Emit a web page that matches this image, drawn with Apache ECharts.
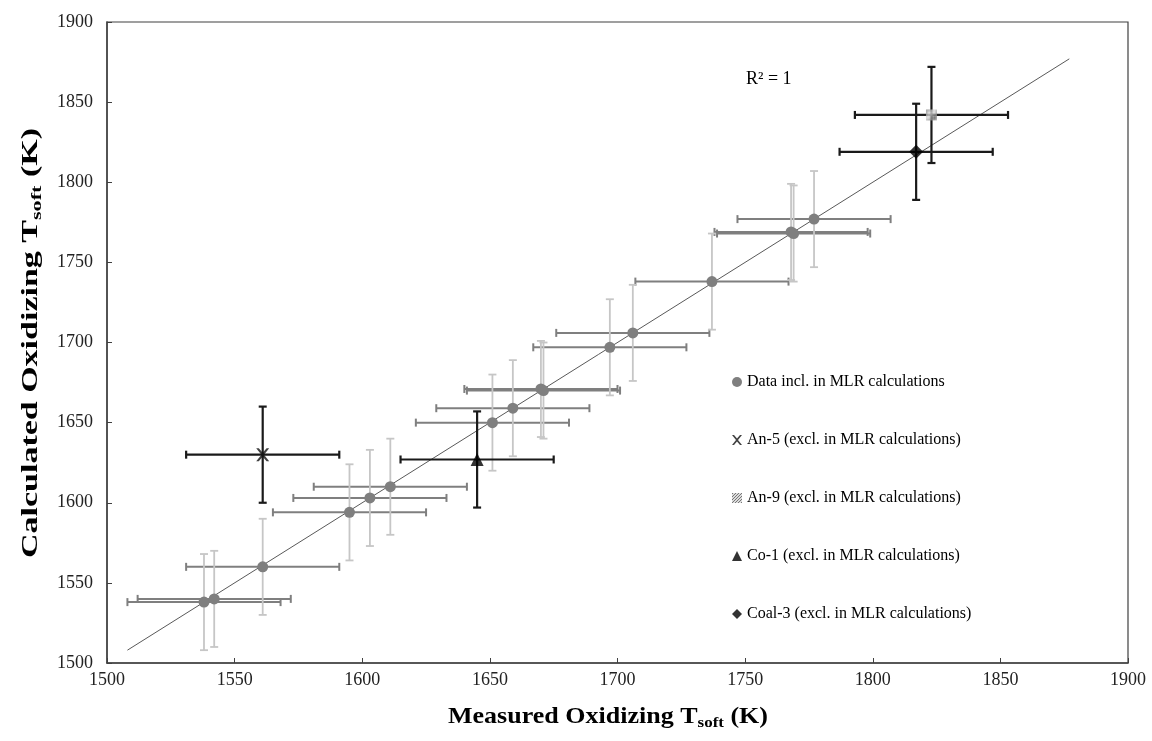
<!DOCTYPE html>
<html>
<head>
<meta charset="UTF-8">
<title>Oxidizing Tsoft</title>
<script src="https://cdn.jsdelivr.net/npm/echarts@6/dist/echarts.min.js"></script>
<style>
  html, body { margin: 0; padding: 0; background: #fff; }
  #main { width: 1152px; height: 741px; }
</style>
</head>
<body>
<div id="main"></div>
<script>
// measured / calculated values
var incX = [1538, 1542, 1561, 1595, 1603, 1611, 1651, 1659, 1670, 1671, 1697, 1706, 1737, 1768, 1769, 1777];
var incY = [1538, 1540, 1560, 1594, 1603, 1610, 1650, 1659, 1671, 1670, 1697, 1706, 1738, 1769, 1768, 1777];
var an5 = [1561, 1630];
var an9 = [1823, 1842];
var co1 = [1645, 1627];
var coal3 = [1817, 1819];
var errBar = 30;            // +/- K on both axes
var trendX = [1508, 1877];  // y = x trendline

var font = 'Liberation Serif';
var chart = echarts.init(document.getElementById('main'));

// dotted fill for An-9
var pat = document.createElement('canvas');
pat.width = 3; pat.height = 3;
var pc = pat.getContext('2d');
pc.fillStyle = '#d4d4d4'; pc.fillRect(0, 0, 3, 3);
pc.fillStyle = '#555'; pc.fillRect(0, 0, 1, 1); pc.fillRect(2, 1, 1, 1); pc.fillRect(1, 2, 1, 1);

var xMark = 'path://M0,0 L2,0 L5,3.5 L8,0 L10,0 L6,5 L10,10 L8,10 L5,6.5 L2,10 L0,10 L4,5 Z';

// axis titles are stretched a bit in the source figure
var mc = document.createElement('canvas').getContext('2d');
function titleWidth(main, sub, tail) {
  mc.font = 'bold 23px "Liberation Serif"';
  var w = mc.measureText(main).width + mc.measureText(tail).width;
  mc.font = 'bold 15px "Liberation Serif"';
  return w + mc.measureText(sub).width;
}
var titleRich = {
  b: { fontFamily: font, fontSize: 23, fontWeight: 'bold', fill: '#000', lineHeight: 28 },
  s: { fontFamily: font, fontSize: 15, fontWeight: 'bold', fill: '#000', lineHeight: 15, verticalAlign: 'bottom' }
};
var xTitleScale = 320 / titleWidth('Measured Oxidizing T', 'soft', ' (K)');
var yTitleScale = 430 / titleWidth('Calculated Oxidizing T', 'soft', ' (K)');

function errRender(dirs, color, width) {
  return function (params, api) {
    var x = api.value(0), y = api.value(1), e = api.value(2);
    var cap = 4;
    var st = { stroke: color, lineWidth: width };
    var kids = [];
    function ln(a, b) {
      kids.push({ type: 'line', shape: { x1: a[0], y1: a[1], x2: b[0], y2: b[1] }, style: st });
    }
    if (dirs.indexOf('h') >= 0) {
      var l = api.coord([x - e, y]), r = api.coord([x + e, y]);
      ln(l, r);
      ln([l[0], l[1] - cap], [l[0], l[1] + cap]);
      ln([r[0], r[1] - cap], [r[0], r[1] + cap]);
    }
    if (dirs.indexOf('v') >= 0) {
      var t = api.coord([x, y + e]), b = api.coord([x, y - e]);
      ln(t, b);
      ln([t[0] - cap, t[1]], [t[0] + cap, t[1]]);
      ln([b[0] - cap, b[1]], [b[0] + cap, b[1]]);
    }
    return { type: 'group', children: kids };
  };
}

var incData = incX.map(function (v, i) { return [v, incY[i], errBar]; });
var excData = [an5, an9, co1, coal3].map(function (p) { return [p[0], p[1], errBar]; });

var option = {
  backgroundColor: '#fff',
  animation: false,
  grid: { left: 107, right: 24, top: 22, bottom: 78, show: true, borderColor: '#404040', borderWidth: 1.2 },
  legend: {
    orient: 'vertical',
    left: 727, top: 368,
    itemWidth: 10, itemHeight: 10, itemGap: 40,
    selectedMode: false,
    textStyle: { fontFamily: font, fontSize: 16, color: '#000', lineHeight: 18 },
    data: ['Data incl. in MLR calculations', 'An-5 (excl. in MLR calculations)', 'An-9 (excl. in MLR calculations)',
           'Co-1 (excl. in MLR calculations)', 'Coal-3 (excl. in MLR calculations)']
  },
  graphic: [
    {
      type: 'text', left: 746, top: 70,
      style: { text: 'R\u00b2 = 1', font: '18px "Liberation Serif"', fill: '#000' }
    },
    {
      type: 'text', x: 608, y: 717, scaleX: xTitleScale,
      style: { text: '{b|Measured Oxidizing T}{s|soft}{b| (K)}', rich: titleRich, align: 'center', verticalAlign: 'middle' }
    },
    {
      type: 'text', x: 31, y: 343, rotation: Math.PI / 2, scaleX: yTitleScale,
      style: { text: '{b|Calculated Oxidizing T}{s|soft}{b| (K)}', rich: titleRich, align: 'center', verticalAlign: 'middle' }
    }
  ],
  xAxis: {
    type: 'value', min: 1500, max: 1900, interval: 50,
    splitLine: { show: false },
    axisLine: { lineStyle: { color: '#404040', width: 1.5 } },
    axisTick: { inside: true, length: 5, lineStyle: { color: '#404040' } },
    axisLabel: { fontFamily: font, fontSize: 18, color: '#222', margin: 8, formatter: function (v) { return String(v); } }
  },
  yAxis: {
    type: 'value', min: 1500, max: 1900, interval: 50,
    splitLine: { show: false },
    axisLine: { show: true, lineStyle: { color: '#404040', width: 1.5 } },
    axisTick: { show: true, inside: true, length: 5, lineStyle: { color: '#404040' } },
    axisLabel: { fontFamily: font, fontSize: 18, color: '#222', margin: 14, formatter: function (v) { return String(v); } }
  },
  series: [
    {
      name: 'trend', type: 'line', symbol: 'none', z: 1,
      lineStyle: { color: '#595959', width: 1 },
      data: [[trendX[0], trendX[0]], [trendX[1], trendX[1]]]
    },
    {
      name: 'incH', type: 'custom', z: 2, renderItem: errRender('h', '#7f7f7f', 2),
      encode: { x: 0, y: 1 }, data: incData
    },
    {
      name: 'incV', type: 'custom', z: 2, renderItem: errRender('v', '#c6c6c6', 1.8),
      encode: { x: 0, y: 1 }, data: incData
    },
    {
      name: 'excErr', type: 'custom', z: 3, renderItem: errRender('hv', '#1a1a1a', 2.2),
      encode: { x: 0, y: 1 }, data: excData
    },
    {
      name: 'Data incl. in MLR calculations', type: 'scatter', z: 4,
      symbol: 'circle', symbolSize: 11,
      itemStyle: { color: '#7f7f7f', opacity: 1 },
      data: incX.map(function (v, i) { return [v, incY[i]]; })
    },
    {
      name: 'An-5 (excl. in MLR calculations)', type: 'scatter', z: 5,
      symbol: xMark, symbolSize: 13, itemStyle: { color: '#111' },
      data: [an5]
    },
    {
      name: 'An-9 (excl. in MLR calculations)', type: 'scatter', z: 5,
      symbol: 'rect', symbolSize: 11, itemStyle: { color: { image: pat, repeat: 'repeat' } },
      data: [an9]
    },
    {
      name: 'Co-1 (excl. in MLR calculations)', type: 'scatter', z: 5,
      symbol: 'triangle', symbolSize: 13, itemStyle: { color: '#000' },
      data: [co1]
    },
    {
      name: 'Coal-3 (excl. in MLR calculations)', type: 'scatter', z: 5,
      symbol: 'diamond', symbolSize: 14, itemStyle: { color: '#000' },
      data: [coal3]
    }
  ]
};
chart.setOption(option);
</script>
</body>
</html>
